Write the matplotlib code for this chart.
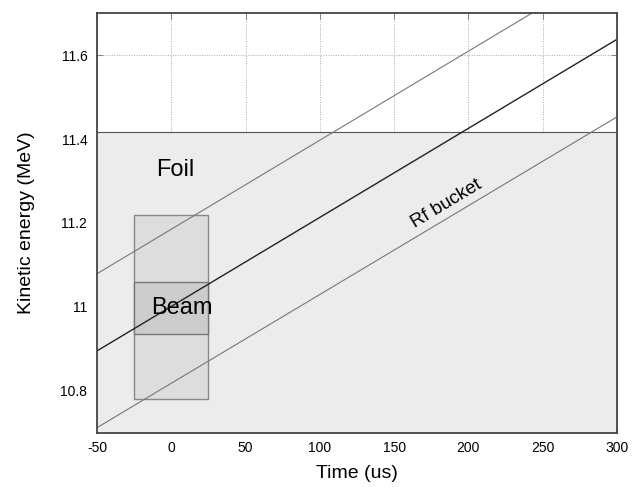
import matplotlib
matplotlib.use("Agg")
import matplotlib.pyplot as plt
import numpy as np
from matplotlib.patches import Rectangle

plt.rcParams['font.family'] = ['Liberation Sans', 'DejaVu Sans']
plt.rcParams['axes.unicode_minus'] = False

# Data
x_ticks = [-50, 0, 50, 100, 150, 200, 250, 300]
y_ticks = [10.8, 11.0, 11.2, 11.4, 11.6]
y_tick_labels = ["10.8", "11", "11.2", "11.4", "11.6"]
xlim = (-50, 300)
ylim = (10.7, 11.7)

foil_top = 11.417
beam_t = (-25, 25)
beam_outer = (10.78, 11.22)
beam_inner = (10.935, 11.06)

line_t = [-50, 300]
center_E = [10.895, 11.638]
upper_E = [11.079, 11.822]
lower_E = [10.712, 11.453]

fig = plt.figure(figsize=(6.32, 4.87), dpi=100)
ax = fig.add_axes([97/632, 1-432.7/487, 520/632, 419.4/487])
ax.set_xlim(*xlim)
ax.set_ylim(*ylim)

# grid
ax.set_xticks(x_ticks)
ax.set_yticks(y_ticks)
ax.set_yticklabels(y_tick_labels)
ax.grid(True, color='#aaaaaa', linestyle=(0, (1, 1.5)), linewidth=0.7, zorder=0)
ax.set_axisbelow(True)

# foil region
ax.add_patch(Rectangle((xlim[0], ylim[0]), xlim[1]-xlim[0], foil_top-ylim[0],
                       facecolor='#ececec', edgecolor='none', zorder=1))
ax.plot(xlim, [foil_top, foil_top], color='#555555', linewidth=0.8, zorder=2)

# beam boxes
ax.add_patch(Rectangle((beam_t[0], beam_outer[0]), beam_t[1]-beam_t[0], beam_outer[1]-beam_outer[0],
                       facecolor='#dddddd', edgecolor='#888888', linewidth=1.0, zorder=2))
ax.add_patch(Rectangle((beam_t[0], beam_inner[0]), beam_t[1]-beam_t[0], beam_inner[1]-beam_inner[0],
                       facecolor='#cccccc', edgecolor='#777777', linewidth=1.0, zorder=2.1))

# rf bucket lines
ax.plot(line_t, upper_E, color='#777777', linewidth=0.8, zorder=3)
ax.plot(line_t, lower_E, color='#777777', linewidth=0.8, zorder=3)
ax.plot(line_t, center_E, color='#222222', linewidth=1.0, zorder=3)

ax.text(2.5, 11.327, "Foil", fontsize=17, ha='center', va='center', zorder=4)
ax.text(7, 10.998, "Beam", fontsize=17, ha='center', va='center', zorder=4)
ax.text(185, 11.246, "Rf bucket", fontsize=13.5, ha='center', va='center',
        rotation=31, rotation_mode='anchor', zorder=4)

for s in ax.spines.values():
    s.set_color('#444444')
    s.set_linewidth(1.3)
    s.set_zorder(5)

ax.tick_params(direction='in', length=4, width=0.8, color='#888888',
               top=True, right=True, labelsize=10)
ax.tick_params(axis='x', pad=6)
ax.tick_params(axis='y', pad=7)
ax.set_xlabel("Time (us)", fontsize=14, labelpad=7)
ax.set_ylabel("Kinetic energy (MeV)", fontsize=14, labelpad=18)

fig.savefig("out.png", dpi=100)
